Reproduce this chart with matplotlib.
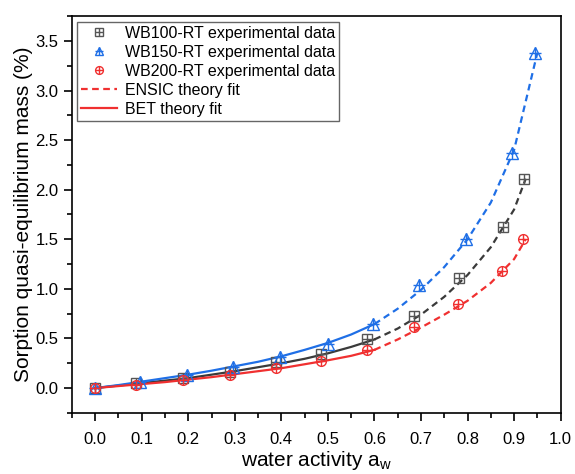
import matplotlib
matplotlib.use("Agg")
import matplotlib.pyplot as plt
from matplotlib.legend_handler import HandlerTuple
from matplotlib.lines import Line2D
from matplotlib.ticker import MultipleLocator

plt.rcParams['font.family'] = ['Liberation Sans', 'DejaVu Sans']

aw_100 = [0.0, 0.088, 0.188, 0.289, 0.388, 0.485, 0.585, 0.685, 0.782, 0.876, 0.921]
m_100 = [0.0, 0.05, 0.10, 0.16, 0.26, 0.34, 0.49, 0.725, 1.11, 1.62, 2.11]

aw_150 = [0.0, 0.096, 0.198, 0.296, 0.397, 0.50, 0.597, 0.696, 0.796, 0.896, 0.946]
m_150 = [0.0, 0.06, 0.13, 0.21, 0.31, 0.44, 0.645, 1.04, 1.50, 2.37, 3.38]

aw_200 = [0.0, 0.088, 0.188, 0.29, 0.388, 0.485, 0.585, 0.684, 0.78, 0.874, 0.919]
m_200 = [0.0, 0.035, 0.08, 0.13, 0.20, 0.27, 0.38, 0.615, 0.85, 1.18, 1.50]

# fit curves
bet_x = [0.0, 0.05, 0.1, 0.15, 0.2, 0.25, 0.3, 0.35, 0.4, 0.45, 0.5, 0.55, 0.6]
bet_100 = [0.0, 0.025, 0.05, 0.075, 0.10, 0.135, 0.17, 0.21, 0.25, 0.295, 0.35, 0.415, 0.49]
bet_150 = [0.0, 0.03, 0.065, 0.10, 0.135, 0.175, 0.22, 0.265, 0.32, 0.385, 0.455, 0.54, 0.645]
bet_200 = [0.0, 0.02, 0.04, 0.06, 0.085, 0.11, 0.14, 0.17, 0.20, 0.24, 0.28, 0.325, 0.385]

ensic_x_150 = [0.6, 0.65, 0.7, 0.75, 0.8, 0.85, 0.9, 0.95]
ensic_150 = [0.645, 0.80, 0.99, 1.22, 1.50, 1.87, 2.40, 3.38]
ensic_x = [0.6, 0.65, 0.7, 0.75, 0.8, 0.85, 0.9, 0.925]
ensic_100 = [0.49, 0.60, 0.74, 0.92, 1.14, 1.42, 1.80, 2.11]
ensic_200 = [0.385, 0.49, 0.61, 0.74, 0.88, 1.06, 1.30, 1.50]

c_blk = '#3a3a3a'
c_mk = '#555555'
c_blu = '#1f6fe6'
c_red = '#f03030'

fig = plt.figure(figsize=(5.75, 4.74), dpi=100)
ax = fig.add_axes([0.125, 0.129, 0.850, 0.837])

ax.plot(bet_x, bet_100, '-', color=c_blk, lw=1.6)
ax.plot(bet_x, bet_150, '-', color=c_blu, lw=1.6)
ax.plot(bet_x, bet_200, '-', color=c_red, lw=1.6)
ax.plot(ensic_x, ensic_100, '--', color=c_blk, lw=1.6, dashes=(3, 2))
ax.plot(ensic_x_150, ensic_150, '--', color=c_blu, lw=1.6, dashes=(3, 2))
ax.plot(ensic_x, ensic_200, '--', color=c_red, lw=1.6, dashes=(3, 2))

ms = 7
h100a, = ax.plot(aw_100, m_100, 's', ms=ms, mfc='none', mec=c_mk, mew=1.0, ls='none')
h100b, = ax.plot(aw_100, m_100, '+', ms=ms, mec=c_mk, mew=1.0, ls='none')
h150a, = ax.plot(aw_150, m_150, '^', ms=ms + 1, mfc='none', mec=c_blu, mew=1.0, ls='none')
h150b, = ax.plot(aw_150, m_150, '+', ms=ms + 1, mec=c_blu, mew=1.0, ls='none')
h200a, = ax.plot(aw_200, m_200, 'o', ms=ms, mfc='none', mec=c_red, mew=1.0, ls='none')
h200b, = ax.plot(aw_200, m_200, '+', ms=ms, mec=c_red, mew=1.0, ls='none')

ens_h = Line2D([], [], color=c_red, ls='--', lw=1.6, dashes=(3, 2))
bet_h = Line2D([], [], color=c_red, ls='-', lw=1.6)

leg = ax.legend([(h100a, h100b), (h150a, h150b), (h200a, h200b), ens_h, bet_h],
                ['WB100-RT experimental data', 'WB150-RT experimental data',
                 'WB200-RT experimental data', 'ENSIC theory fit', 'BET theory fit'],
                handler_map={tuple: HandlerTuple(ndivide=1, pad=0)},
                loc='upper left', fontsize=11.5, fancybox=False, edgecolor='#666666',
                framealpha=1, borderaxespad=0.35, handlelength=2.2, labelspacing=0.25,
                handletextpad=0.5, borderpad=0.25, markerscale=0.8)
leg.get_frame().set_linewidth(1.0)

ax.set_xlim(-0.05, 1.0)
ax.set_ylim(-0.25, 3.75)
ax.xaxis.set_major_locator(MultipleLocator(0.1))
ax.xaxis.set_minor_locator(MultipleLocator(0.05))
ax.yaxis.set_major_locator(MultipleLocator(0.5))
ax.yaxis.set_minor_locator(MultipleLocator(0.25))
ax.tick_params(which='both', direction='out', top=False, right=False, labelsize=12)
ax.tick_params(which='major', length=6, width=1.2)
ax.tick_params(which='minor', length=3.5, width=1.2)
ax.tick_params(axis='x', which='major', pad=8)
for s in ax.spines.values():
    s.set_linewidth(1.2)

ax.set_xlabel('water activity a$_\\mathregular{w}$', fontsize=15, labelpad=1)
ax.set_ylabel('Sorption quasi-equilibrium mass (%)', fontsize=15, labelpad=2)

fig.savefig('out.png', dpi=100)
